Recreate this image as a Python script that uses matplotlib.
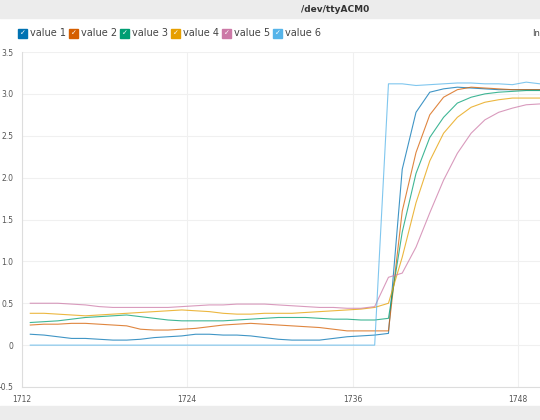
import numpy as np
import matplotlib.pyplot as plt
from matplotlib.patches import Rectangle

# sample positions (serial plotter sample counter)
x = np.arange(38) + 1712.6

v1 = [.13, .12, .10, .08, .08, .07, .06, .06, .07, .09, .10, .11, .13, .13, .12, .12, .11, .09, .07, .06, .06, .06, .08, .10, .11, .12,
      .14, 2.10, 2.78, 3.02, 3.06, 3.08, 3.07, 3.06, 3.05, 3.05, 3.05, 3.05]
v2 = [.24, .25, .25, .26, .26, .25, .24, .23, .19, .18, .18, .19, .20, .22, .24, .25, .26, .25, .24, .23, .22, .21, .19, .17, .17, .17,
      .17, 1.60, 2.30, 2.75, 2.96, 3.05, 3.08, 3.07, 3.06, 3.05, 3.05, 3.05]
v3 = [.27, .28, .29, .31, .33, .34, .35, .36, .34, .32, .30, .29, .29, .29, .29, .30, .31, .32, .33, .33, .33, .32, .31, .31, .30, .30,
      .32, 1.35, 2.05, 2.48, 2.72, 2.89, 2.96, 3.00, 3.02, 3.03, 3.04, 3.04]
v4 = [.38, .38, .37, .36, .35, .36, .37, .38, .39, .40, .41, .42, .41, .40, .38, .37, .37, .38, .38, .38, .39, .40, .41, .42, .43, .45,
      .50, 1.05, 1.70, 2.20, 2.53, 2.72, 2.84, 2.90, 2.93, 2.95, 2.95, 2.95]
v5 = [.50, .50, .50, .49, .48, .46, .45, .45, .45, .45, .45, .46, .47, .48, .48, .49, .49, .49, .48, .47, .46, .45, .45, .44, .44, .46,
      .81, .86, 1.17, 1.58, 1.97, 2.29, 2.53, 2.69, 2.78, 2.83, 2.87, 2.88]
v6 = [0] * 26 + [3.12, 3.12, 3.10, 3.11, 3.12, 3.13, 3.13, 3.12, 3.12, 3.11, 3.14, 3.12]

series = [v1, v2, v3, v4, v5, v6]
names = ['value 1', 'value 2', 'value 3', 'value 4', 'value 5', 'value 6']
colors = ['#0072B2', '#D55E00', '#009E73', '#E69F00', '#CC79A7', '#56B4E9']
xticks = [1712, 1724, 1736, 1748]
yticks = [-0.5, 0, 0.5, 1.0, 1.5, 2.0, 2.5, 3.0, 3.5]

fig = plt.figure(figsize=(5.4, 4.2), dpi=100)
fig.patch.set_facecolor('white')

# window title bar and bottom strip
fig.patches.append(Rectangle((0, 1 - 18 / 420), 1, 18 / 420, transform=fig.transFigure, color='#ececec', zorder=0))
fig.patches.append(Rectangle((0, 0), 1, 14 / 420, transform=fig.transFigure, color='#ececec', zorder=0))
fig.text(335 / 540, 1 - 9 / 420, '/dev/ttyACM0', ha='center', va='center', fontsize=6.5, fontweight='bold', color='#333333')

# legend with check boxes
lx = [18, 69, 120, 171, 222, 273]
for px, name, c in zip(lx, names, colors):
    fig.patches.append(Rectangle((px / 540, 1 - 38 / 420), 9 / 540, 9 / 420, transform=fig.transFigure, color=c, zorder=2))
    fig.text((px + 4.5) / 540, 1 - 33.5 / 420, '✓', ha='center', va='center', fontsize=5, color='white', fontweight='bold')
    fig.text((px + 12) / 540, 1 - 33.5 / 420, name, ha='left', va='center', fontsize=7, color='#444444')
fig.text(532 / 540, 1 - 33.5 / 420, 'In', ha='left', va='center', fontsize=6, color='#444444')

ax = fig.add_axes([22 / 540, 33 / 420, 518 / 540, 335 / 420])
for v, c in zip(series, colors):
    ax.plot(x, v, color=c, linewidth=0.8, alpha=0.75)

ax.set_xlim(1712, 1749.6)
ax.set_ylim(-0.5, 3.5)
ax.set_xticks(xticks)
ax.set_yticks(yticks)
ax.set_yticklabels(['-0.5', '0', '0.5', '1.0', '1.5', '2.0', '2.5', '3.0', '3.5'])
ax.grid(True, color='#f0f0f0', linewidth=0.8)
ax.tick_params(labelsize=5.5, colors='#555555', length=0, pad=6)
for s in ['top', 'right']:
    ax.spines[s].set_visible(False)
for s in ['left', 'bottom']:
    ax.spines[s].set_color('#dddddd')
    ax.spines[s].set_linewidth(0.8)

plt.savefig('out.png', dpi=100)
